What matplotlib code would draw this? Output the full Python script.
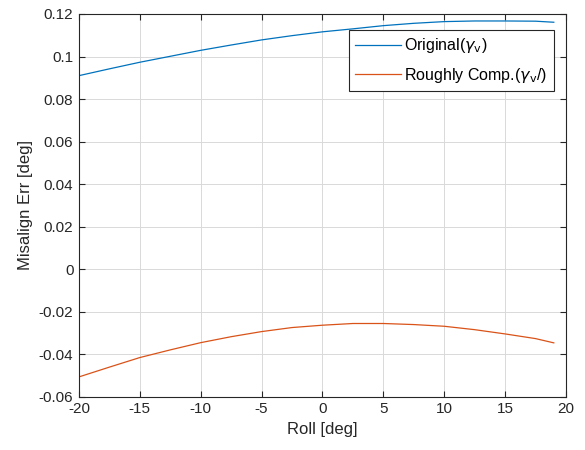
import matplotlib
matplotlib.use("Agg")
import matplotlib.pyplot as plt

# Roll angle [deg]
roll = [-20, -17.5, -15, -12.5, -10, -7.5, -5, -2.5, 0,
        2.5, 5, 7.5, 10, 12.5, 15, 17.5, 19]

# Misalignment error [deg]
original = [0.0910, 0.0942, 0.0973, 0.1001, 0.1029, 0.1054, 0.1078, 0.1098, 0.1116,
            0.1130, 0.1145, 0.1156, 0.1164, 0.1167, 0.1167, 0.1166, 0.1161]
rough_comp = [-0.0506, -0.0460, -0.0415, -0.0379, -0.0345, -0.0317, -0.0293, -0.0274, -0.0263,
              -0.0255, -0.0255, -0.0260, -0.0268, -0.0284, -0.0304, -0.0326, -0.0346]

x_ticks = [-20, -15, -10, -5, 0, 5, 10, 15, 20]
y_ticks = [-0.06, -0.04, -0.02, 0, 0.02, 0.04, 0.06, 0.08, 0.1, 0.12]
y_tick_labels = ["-0.06", "-0.04", "-0.02", "0", "0.02", "0.04", "0.06", "0.08", "0.1", "0.12"]

plt.rcParams['font.family'] = ['Liberation Sans', 'DejaVu Sans']
plt.rcParams['mathtext.fontset'] = 'dejavusans'
plt.rcParams['axes.unicode_minus'] = False

fig = plt.figure(figsize=(5.85, 4.5), dpi=100)
ax = fig.add_axes([0.135, 0.118, 0.8325, 0.851])

ax.plot(roll, original, color='#0072BD', linewidth=0.9, label=r'Original($\gamma_{\mathrm{v}}$)')
ax.plot(roll, rough_comp, color='#D95319', linewidth=0.9, label=r"Roughly Comp.($\gamma_{\mathrm{v}}$/)")

ax.set_xlim(-20, 20)
ax.set_ylim(-0.06, 0.12)
ax.set_xticks(x_ticks)
ax.set_yticks(y_ticks)
ax.set_yticklabels(y_tick_labels)

ax.tick_params(direction='in', top=True, right=True, labelsize=11, length=4,
               width=0.8, colors='#262626', pad=4)
ax.grid(True, color='#d9d9d9', linewidth=0.7)
ax.set_axisbelow(True)
for s in ax.spines.values():
    s.set_color('#262626')
    s.set_linewidth(0.8)

ax.set_xlabel('Roll [deg]', fontsize=12, color='#262626')
ax.set_ylabel('Misalign Err [deg]', fontsize=12, color='#262626')

leg = ax.legend(loc='upper right', bbox_to_anchor=(0.975, 0.958), fontsize=11.5,
                fancybox=False, framealpha=1, edgecolor='#262626', borderaxespad=0,
                handlelength=2.9, borderpad=0.4, labelspacing=0.65, handletextpad=0.2)
leg.get_frame().set_linewidth(0.8)

fig.savefig('out.png', dpi=100)
